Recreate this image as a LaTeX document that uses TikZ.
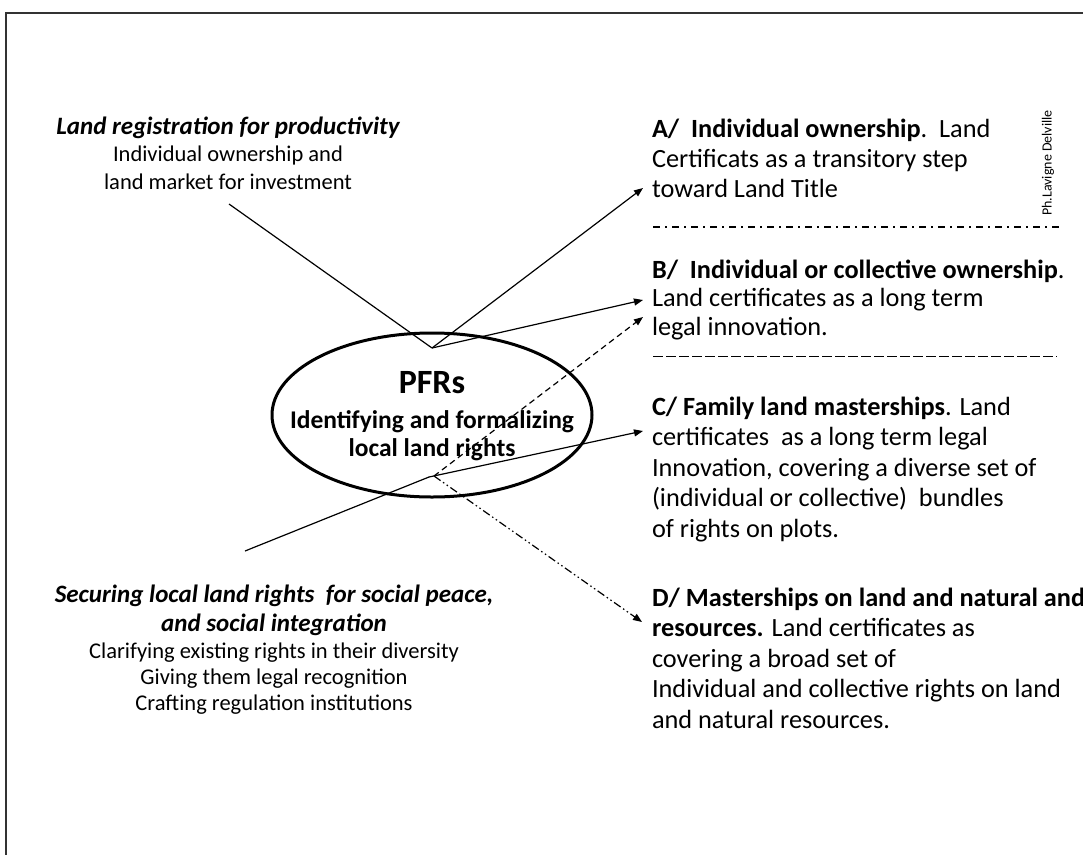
\documentclass[tikz,border=0pt]{standalone}
\usepackage{fontspec}
\setmainfont{Carlito}
\usetikzlibrary{arrows.meta,shapes.geometric}
\newcommand\fsz[2]{\fontsize{#1pt}{#2pt}\selectfont}
\newcommand\topstrut[1]{\rule{0pt}{#1pt}}
\begin{document}
\begin{tikzpicture}[x=1pt,y=-1pt,
  txt/.style={inner sep=0pt, outer sep=0pt},
  rblock/.style={txt, anchor=north west, align=left},
  cblock/.style={txt, anchor=north, align=center},
  link/.style={line width=1.2pt, black},
  arr/.style={link, -{Triangle[length=9pt,width=7pt]}},
  dasharr/.style={arr, dash pattern=on 6pt off 4pt},
  dddarr/.style={arr, dash pattern=on 8pt off 3pt on 1.5pt off 3pt on 1.5pt off 3pt},
  sepdashdot/.style={line width=2pt, dash pattern=on 7pt off 5pt on 2pt off 5pt},
  sepdash/.style={line width=1pt, dash pattern=on 10pt off 3pt},
  frameline/.style={line width=2pt, black!80},
  hub/.style={draw, ellipse, line width=3pt, minimum width=320pt, minimum height=164pt, inner sep=0pt},
]
\useasboundingbox (0,0) rectangle (1083,854);
\fill[white] (0,0) rectangle (1083,854);

% frame
\coordinate (fTL) at (6,13);
\coordinate (fTR) at (1090,13);
\coordinate (fBL) at (6,860);
\draw[frameline] (fTR) -- (fTL) -- (fBL);

% central ellipse
\node[hub] (pfr) at (432,415) {};
\node[cblock, font=\bfseries\fsz{25.5}{28}] (pfrtext) at (432,369)
  {\topstrut{24}{\fsz{34}{28}PFRs}\\[7pt]Identifying and formalizing\\local land rights};

% left texts
\node[cblock, font=\fsz{22.5}{27.5}] (regtext) at (228,114)
  {\topstrut{20}{\fsz{25}{27.5}\bfseries\itshape Land registration for productivity}\\
   Individual ownership and\\land market for investment};
\node[cblock, font=\fsz{22.5}{26}] (sectext) at (274,582)
  {\topstrut{20}{\fsz{25}{26}\bfseries\itshape Securing local land rights\ \ for social peace,}\\[3pt]
   {\fsz{25}{26}\bfseries\itshape and social integration}\\[1pt]
   Clarifying existing rights in their diversity\\
   Giving them legal recognition\\
   Crafting regulation institutions};

% right texts
\node[rblock, font=\fsz{26.3}{30}] (ansA) at (652,116)
  {\topstrut{21}\textbf{A/\ \ Individual ownership}.\ \ Land\\
   Certificats as a transitory step\\toward Land Title};
\node[rblock, font=\fsz{26.3}{28.5}] (ansB) at (652,257)
  {\topstrut{21}\textbf{B/\ \ Individual or collective ownership}.\\
   Land certificates as a long term\\legal innovation.};
\node[rblock, font=\fsz{26.3}{30.5}] (ansC) at (652,394)
  {\topstrut{21}\textbf{C/ Family land masterships}. Land\\
   certificates\ \ as a long term legal\\
   Innovation, covering a diverse set of\\
   (individual or collective)\ \ bundles\\
   of rights on plots.};
\node[rblock, font=\fsz{26.3}{30.5}] (ansD) at (652,585)
  {\topstrut{21}\textbf{D/ Masterships on land and natural and}\\
   \textbf{resources.} Land certificates as\\
   covering a broad set of\\
   Individual and collective rights on land\\
   and natural resources.};

\node[txt, rotate=90, font=\fsz{14}{16}] (credit) at (1048,163) {Ph.Lavigne Delville};

% separators
\coordinate (sepAl) at (653,227);
\coordinate (sepAr) at (1060,227);
\coordinate (sepBl) at (653,356);
\coordinate (sepBr) at (1057,356);
\draw[sepdashdot] (sepAl) -- (sepAr);
\draw[sepdash] (sepBl) -- (sepBr);

% connectors
\coordinate (regfoot) at (229,204);
\coordinate (apex) at (432,348);
\coordinate (tipA) at (643,188);
\coordinate (tipB) at (643,300);
\draw[link] (regfoot) -- (apex);
\draw[arr] (apex) -- (tipA);
\draw[arr] (apex) -- (tipB);

\coordinate (secfoot) at (245,551);
\coordinate (hinge) at (429,477);
\coordinate (dstart) at (434,476);
\coordinate (tipC) at (643,431);
\coordinate (tipBd) at (643,317);
\coordinate (tipD) at (642,622);
\draw[link] (secfoot) -- (hinge);
\draw[arr] (hinge) -- (tipC);
\draw[dasharr] (dstart) -- (tipBd);
\draw[dddarr] (dstart) -- (tipD);
\end{tikzpicture}
\end{document}
